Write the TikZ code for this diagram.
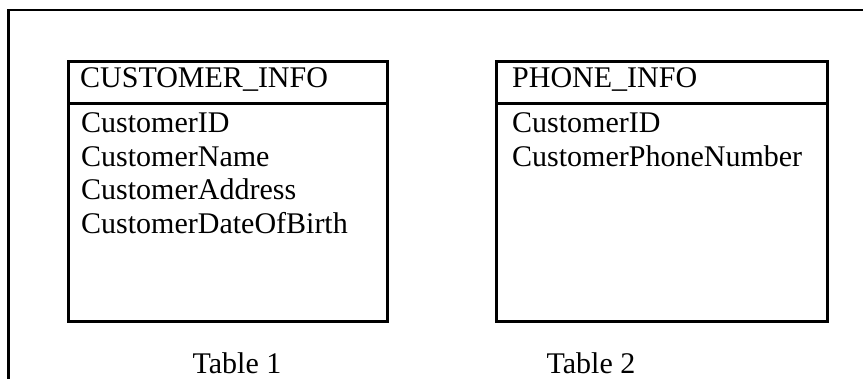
\documentclass[tikz,border=0pt]{standalone}
\usepackage{fontspec}
\setmainfont{Liberation Serif}
\begin{document}
\begin{tikzpicture}[x=1pt,y=-1pt,
  cell/.style={draw,line width=2.6pt,inner sep=0pt,anchor=north west},
  txt/.style={inner sep=0pt,anchor=base west,font=\fontsize{30}{33}\selectfont},
  tcaption/.style={inner sep=0pt,anchor=base,font=\fontsize{30}{33}\selectfont}]
\useasboundingbox (0,0) rectangle (863,378);
% outer frame (right and bottom sides lie outside the picture)
\draw[line width=2.5pt] (875,10) -- (8.5,10) -- (8.5,390);
% Table 1
\node[cell,minimum width=319pt,minimum height=42pt] (h1) at (67,60) {};
\node[cell,minimum width=319pt,minimum height=218pt] (b1) at (67,102) {};
\node[txt] (h1t) at (80,87) {CUSTOMER\_INFO};
\node[txt] (r11) at (81,132.5) {CustomerID};
\node[txt] (r12) at (81,166) {CustomerName};
\node[txt] (r13) at (81,199.5) {CustomerAddress};
\node[txt] (r14) at (81,233) {CustomerDateOfBirth};
\node[tcaption] (c1) at (237,373) {Table 1};
% Table 2
\node[cell,minimum width=331pt,minimum height=42pt] (h2) at (495,60) {};
\node[cell,minimum width=331pt,minimum height=218pt] (b2) at (495,102) {};
\node[txt] (h2t) at (512,87) {PHONE\_INFO};
\node[txt] (r21) at (512,132.5) {CustomerID};
\node[txt] (r22) at (512,166) {CustomerPhoneNumber};
\node[tcaption] (c2) at (591,373) {Table 2};
\end{tikzpicture}
\end{document}
